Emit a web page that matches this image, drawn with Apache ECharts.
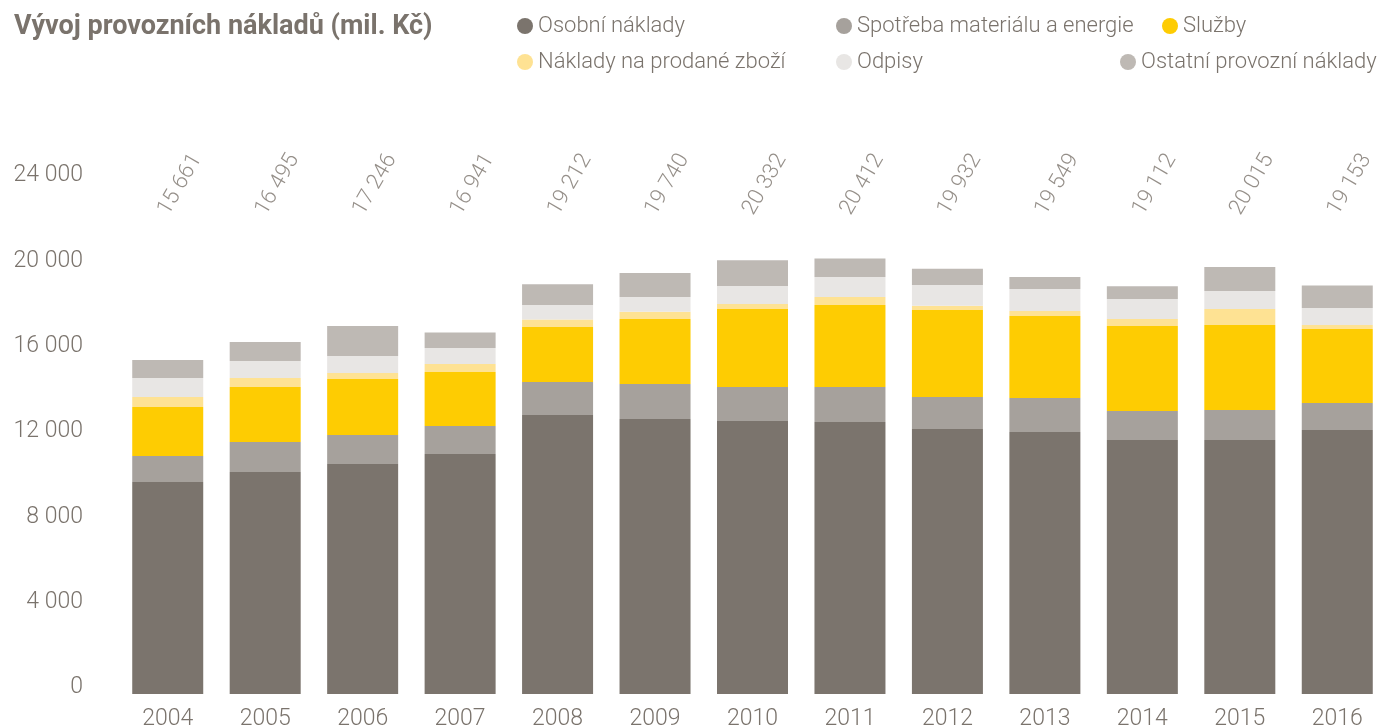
<!DOCTYPE html>
<html>
<head>
<meta charset="utf-8">
<script src="https://cdn.jsdelivr.net/npm/echarts@6/dist/echarts.min.js"></script>
<style>
html,body{margin:0;padding:0;background:#fff;}
#chart{width:1384px;height:726px;}
</style>
</head>
<body>
<div id="chart"></div>
<script>
const years = ['2004','2005','2006','2007','2008','2009','2010','2011','2012','2013','2014','2015','2016'];
const osobni    = [9940, 10410, 10780, 11250, 13080, 12890, 12800, 12750, 12420, 12280, 11910, 11910, 12375];
const spotreba  = [1220, 1400, 1360, 1310, 1550, 1640, 1590, 1640, 1500, 1595, 1360, 1400, 1265];
const sluzby    = [2290, 2580, 2630, 2530, 2570, 3050, 3660, 3840, 4080, 3845, 3980, 3990, 3470];
const zbozi     = [470, 420, 280, 380, 350, 340, 230, 380, 200, 230, 330, 750, 190];
const odpisy    = [890, 800, 790, 750, 680, 690, 845, 940, 970, 1030, 940, 840, 790];
const ostatni   = [851, 885, 1406, 721, 982, 1130, 1207, 862, 762, 569, 592, 1125, 1063];
const totals    = [15661, 16495, 17246, 16941, 19212, 19740, 20332, 20412, 19932, 19549, 19112, 20015, 19153];
const seriesNames = ['Osobní náklady','Spotřeba materiálu a energie','Služby','Náklady na prodané zboží','Odpisy','Ostatní provozní náklady'];
const colors = ['#7b746d','#a6a19c','#fecc02','#fee293','#e8e6e4','#beb9b4'];
const yTicks = [0, 4000, 8000, 12000, 16000, 20000, 24000];
const labelLevel = 24000;

const FONT = 'Roboto';
const TXT = '#7a736c';
const fmt = v => String(v).replace(/\B(?=(\d{3})+(?!\d))/g, ' ');

const dataSets = [osobni, spotreba, sluzby, zbozi, odpisy, ostatni];
const legendPos = [
  {left: 517, top: 15}, {left: 836, top: 15}, {left: 1162, top: 15},
  {left: 517, top: 51}, {left: 836, top: 51}, {left: 1120, top: 51}
];

const chart = echarts.init(document.getElementById('chart'), null, {renderer: 'canvas'});
const series = seriesNames.map((n, i) => ({
  name: n, type: 'bar', stack: 'total', barWidth: 71,
  itemStyle: {color: colors[i]},
  data: dataSets[i]
}));
series.push({
  type: 'scatter', symbolSize: 0, silent: true,
  data: totals.map((t, i) => ({value: [years[i], labelLevel], total: t})),
  label: {
    show: true, position: 'inside', align: 'center', verticalAlign: 'middle',
    rotate: 60, offset: [4, 12],
    fontFamily: FONT, fontWeight: 300, fontSize: 22, color: TXT,
    formatter: p => fmt(p.data.total)
  }
});

chart.setOption({
  animation: false,
  title: {
    text: 'Vývoj provozních nákladů (mil. Kč)', left: 9, top: 9,
    textStyle: {fontFamily: FONT, fontWeight: 'bold', fontSize: 27, color: TXT}
  },
  legend: seriesNames.map((n, i) => ({
    data: [n], left: legendPos[i].left, top: legendPos[i].top, padding: 0,
    icon: 'circle', itemWidth: 16, itemHeight: 16, selectedMode: false,
    textStyle: {fontFamily: FONT, fontWeight: 300, fontSize: 22, color: TXT}
  })),
  grid: {left: 119, width: 1267, top: 182, bottom: 32, containLabel: false, outerBoundsMode: 'none'},
  xAxis: {
    type: 'category', data: years,
    axisLine: {show: false}, axisTick: {show: false},
    axisLabel: {fontFamily: FONT, fontWeight: 300, fontSize: 23, color: TXT, margin: 14}
  },
  yAxis: {
    type: 'value', min: 0, max: 24000, interval: 4000,
    splitLine: {show: false}, axisLine: {show: false}, axisTick: {show: false},
    axisLabel: {
      fontFamily: FONT, fontWeight: 300, fontSize: 23, color: TXT, margin: 36,
      verticalAlign: 'bottom', lineHeight: 13,
      formatter: v => yTicks.includes(v) ? fmt(v) : ''
    }
  },
  series: series
});
</script>
</body>
</html>
